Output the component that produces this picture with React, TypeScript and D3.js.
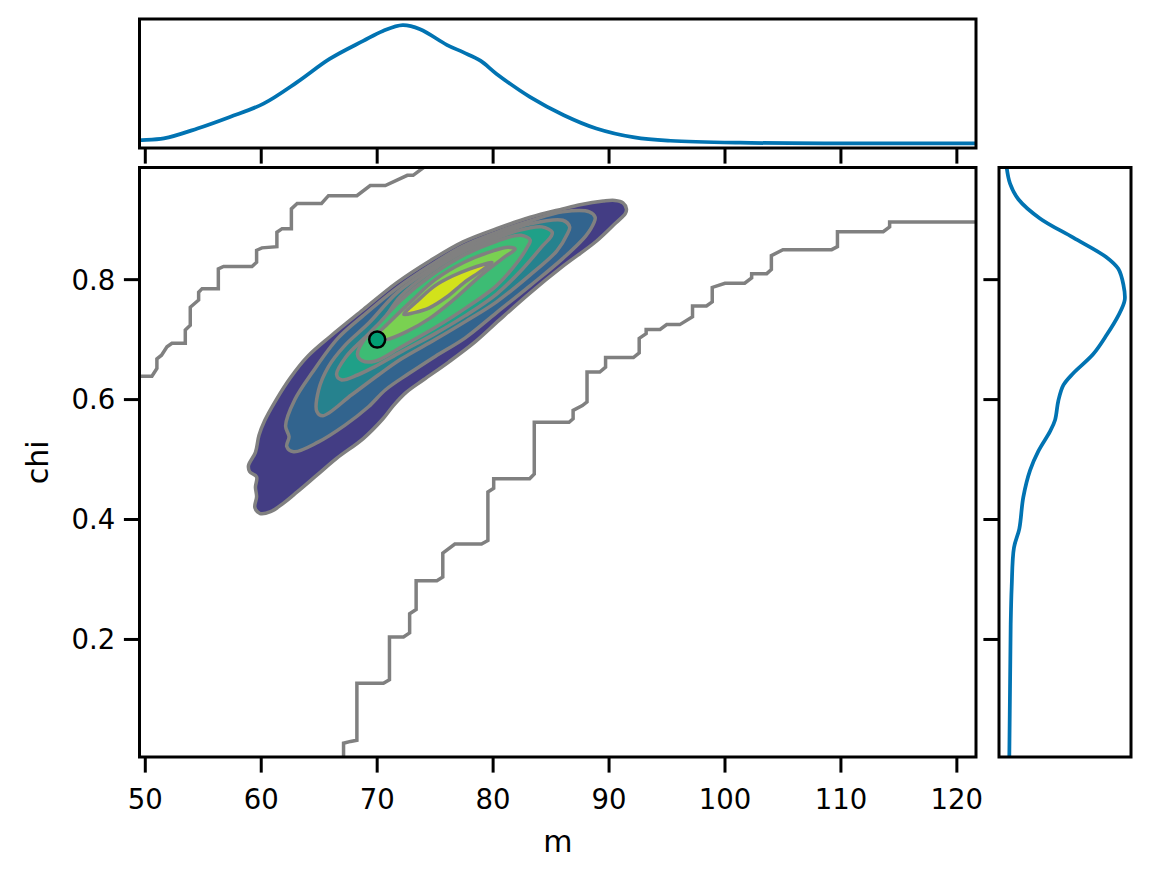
import React from "react";
import * as d3 from "d3";

// axis ticks and limits
const mTicks = [50, 60, 70, 80, 90, 100, 110, 120];
const chiTicks = [0.2, 0.4, 0.6, 0.8];
const mLimits = [49.5, 121.65];
const chiLimits = [0.004, 0.987];

// marginal KDE of m (relative density, peak ~100)
const mGrid = [49.5, 49.7, 51.6, 54.5, 57.3, 60.2, 63.1, 65.9, 68.8, 70.5, 72.2, 73.7, 76.0, 77.4, 78.9, 80.3, 83.2, 86.1, 88.9, 92.2, 95.3, 101.3, 110.4, 121.65];
const mDensity = [6.3, 6.5, 7.8, 15.9, 25.3, 36.1, 53.6, 72.5, 87.2, 95.3, 100, 96.7, 84.0, 78.0, 71.1, 60.3, 41.4, 26.7, 15.9, 8.6, 5.9, 4.3, 3.8, 3.8];

// marginal KDE of chi (relative density, peak ~100)
const chiGrid = [0.004, 0.127, 0.224, 0.288, 0.353, 0.385, 0.437, 0.482, 0.514, 0.547, 0.566, 0.598, 0.624, 0.644, 0.676, 0.708, 0.740, 0.766, 0.792, 0.818, 0.837, 0.870, 0.902, 0.934, 0.960, 0.987];
const chiDensity = [8.2, 8.8, 9.3, 10.1, 11.9, 16.2, 19.3, 24.7, 31.3, 40.6, 44.6, 47.2, 51.2, 59.1, 75.0, 85.7, 94.9, 100, 98.9, 94.9, 85.7, 59.1, 32.6, 15.4, 8.8, 6.1];

// joint KDE contour levels, outermost first, as [m, chi] vertices
const level1 = [[91.5, 0.918], [91.2, 0.928], [90.5, 0.932], [89.5, 0.931], [87.5, 0.925], [86.0, 0.918], [83.2, 0.904], [80.3, 0.885], [77.4, 0.863], [74.6, 0.832], [71.7, 0.795], [68.8, 0.750], [66.0, 0.706], [64.0, 0.672], [62.5, 0.636], [61.3, 0.600], [60.3, 0.565], [59.8, 0.540], [59.5, 0.512], [58.9, 0.490], [59.0, 0.480], [59.6, 0.471], [59.5, 0.454], [59.6, 0.438], [59.45, 0.420], [59.9, 0.410], [60.8, 0.413], [61.9, 0.427], [63.1, 0.446], [64.8, 0.474], [66.5, 0.502], [68.8, 0.535], [70.5, 0.568], [71.4, 0.590], [72.5, 0.612], [74.0, 0.633], [76.2, 0.663], [78.5, 0.697], [80.5, 0.732], [83.2, 0.778], [86.0, 0.822], [88.9, 0.864], [90.6, 0.895], [91.4, 0.910]];
const level2 = [[88.8, 0.904], [88.3, 0.913], [86.0, 0.913], [83.2, 0.898], [80.3, 0.879], [77.4, 0.856], [74.6, 0.824], [71.7, 0.786], [68.8, 0.740], [66.6, 0.702], [64.4, 0.645], [62.9, 0.600], [62.1, 0.556], [62.4, 0.538], [62.2, 0.522], [62.8, 0.513], [64.9, 0.529], [67.2, 0.557], [69.25, 0.588], [70.7, 0.616], [72.7, 0.643], [75.0, 0.672], [77.6, 0.703], [80.3, 0.745], [83.2, 0.790], [86.0, 0.835], [88.0, 0.873], [88.7, 0.895]];
const level3 = [[86.6, 0.888], [86.0, 0.899], [83.2, 0.893], [80.3, 0.874], [77.4, 0.851], [74.6, 0.818], [71.7, 0.778], [69.3, 0.728], [67.2, 0.690], [65.8, 0.655], [64.95, 0.616], [64.8, 0.580], [65.3, 0.573], [67.8, 0.608], [70.1, 0.641], [72.1, 0.668], [75.0, 0.700], [77.6, 0.730], [80.3, 0.763], [83.2, 0.808], [85.5, 0.848], [86.4, 0.876]];
const level4 = [[85.1, 0.879], [84.2, 0.888], [82.0, 0.881], [80.3, 0.869], [77.4, 0.846], [74.6, 0.813], [72.0, 0.772], [70.4, 0.730], [68.7, 0.699], [67.3, 0.671], [66.5, 0.642], [66.9, 0.633], [68.3, 0.641], [69.8, 0.655], [72.1, 0.680], [75.0, 0.710], [77.6, 0.740], [80.3, 0.776], [82.5, 0.817], [84.3, 0.857], [85.0, 0.872]];
const level5 = [[83.2, 0.866], [82.4, 0.874], [80.3, 0.864], [77.4, 0.840], [74.6, 0.806], [72.0, 0.765], [70.2, 0.728], [69.0, 0.703], [68.3, 0.676], [68.7, 0.665], [69.8, 0.664], [72.1, 0.688], [75.0, 0.720], [77.6, 0.752], [80.3, 0.790], [82.2, 0.832], [83.0, 0.856]];
const level6 = [[69.6, 0.699], [71.0, 0.728], [73.0, 0.765], [75.0, 0.800], [77.5, 0.829], [80.0, 0.848], [81.3, 0.854], [81.9, 0.851], [81.0, 0.838], [79.0, 0.808], [76.5, 0.765], [74.5, 0.735], [72.5, 0.713], [70.8, 0.700]];
const level7 = [[72.3, 0.742], [73.5, 0.765], [75.0, 0.790], [76.5, 0.806], [78.0, 0.818], [79.3, 0.826], [79.9, 0.829], [79.0, 0.815], [77.5, 0.795], [76.0, 0.771], [74.5, 0.753], [73.2, 0.745]];
const levels = [level1, level2, level3, level4, level5, level6, level7];
const levelColors = ["#433d84", "#32648e", "#26828e", "#1fa088", "#3dbc74", "#7ad151", "#d2e21b"];

// coarse-grid boundary contours
const boundaryUpper = [[49.5, 0.639], [50.57, 0.639], [51.0, 0.652], [51.0, 0.668], [51.4, 0.674], [51.87, 0.688], [52.3, 0.694], [53.45, 0.694], [53.45, 0.716], [53.88, 0.724], [53.88, 0.754], [54.6, 0.766], [54.6, 0.779], [54.9, 0.785], [56.3, 0.785], [56.3, 0.818], [56.75, 0.822], [59.2, 0.822], [59.6, 0.829], [59.6, 0.849], [60.06, 0.853], [61.35, 0.855], [61.35, 0.879], [61.8, 0.885], [62.6, 0.885], [62.6, 0.918], [63.1, 0.927], [65.2, 0.927], [65.8, 0.940], [68.25, 0.940], [69.4, 0.957], [70.7, 0.957], [72.6, 0.974], [73.1, 0.974], [74.0, 0.987]];
const boundaryLower = [[67.1, 0.004], [67.1, 0.027], [67.7, 0.030], [68.25, 0.032], [68.25, 0.127], [70.54, 0.127], [71.06, 0.133], [71.06, 0.204], [72.27, 0.204], [72.8, 0.211], [72.8, 0.243], [73.36, 0.250], [73.36, 0.298], [75.15, 0.298], [75.66, 0.304], [75.66, 0.344], [76.7, 0.359], [79.0, 0.359], [79.55, 0.365], [79.55, 0.446], [80.05, 0.452], [80.05, 0.468], [83.15, 0.468], [83.55, 0.476], [83.55, 0.562], [86.55, 0.562], [86.9, 0.568], [86.9, 0.582], [87.7, 0.590], [88.1, 0.596], [88.1, 0.646], [89.2, 0.646], [89.7, 0.654], [89.7, 0.670], [92.1, 0.670], [92.6, 0.678], [92.6, 0.702], [93.2, 0.710], [93.2, 0.717], [94.4, 0.717], [94.97, 0.725], [96.1, 0.725], [97.2, 0.738], [97.2, 0.756], [98.4, 0.756], [98.9, 0.763], [98.9, 0.787], [100.0, 0.794], [101.7, 0.794], [102.3, 0.803], [102.3, 0.810], [103.6, 0.810], [104.0, 0.817], [104.0, 0.840], [105.0, 0.850], [109.2, 0.850], [109.7, 0.855], [109.7, 0.880], [113.65, 0.880], [114.2, 0.888], [114.2, 0.896], [121.65, 0.896]];

// reference point
const truth = { m: 70, chi: 0.7 };

const W = 1151;
const H = 878;
const main = { left: 139.5, right: 976, top: 167.5, bottom: 757 };
const margTop = { top: 19, bottom: 148 };
const margRight = { left: 999, right: 1131 };
const TICK = 15.6;
const FONT = "DejaVu Sans, Liberation Sans, sans-serif";
const KDE_BLUE = "#0173b2";
const GRAY = "#808080";

export default function App() {
  const x = d3.scaleLinear().domain(mLimits).range([main.left, main.right]);
  const y = d3.scaleLinear().domain(chiLimits).range([main.bottom, main.top]);
  const yTop = d3.scaleLinear().domain([0, 105]).range([margTop.bottom, margTop.top]);
  const xRight = d3.scaleLinear().domain([0, 105]).range([margRight.left, margRight.right]);

  const contour = d3
    .line<number[]>()
    .x((d) => x(d[0]))
    .y((d) => y(d[1]))
    .curve(d3.curveCatmullRomClosed.alpha(0.5));
  const stepLine = d3
    .line<number[]>()
    .x((d) => x(d[0]))
    .y((d) => y(d[1]));
  const topKde = d3
    .line<number>()
    .x((_, i) => x(mGrid[i]))
    .y((d) => yTop(d))
    .curve(d3.curveCatmullRom.alpha(0.5));
  const rightKde = d3
    .line<number>()
    .x((d) => xRight(d))
    .y((_, i) => y(chiGrid[i]))
    .curve(d3.curveCatmullRom.alpha(0.5));

  return (
    <svg width={W} height={H} style={{ position: "absolute", left: 0, top: 0, background: "#fff" }} fontFamily={FONT}>
      <defs>
        <clipPath id="main-clip">
          <rect x={main.left} y={main.top} width={main.right - main.left} height={main.bottom - main.top} />
        </clipPath>
        <clipPath id="top-clip">
          <rect x={main.left} y={margTop.top} width={main.right - main.left} height={margTop.bottom - margTop.top} />
        </clipPath>
        <clipPath id="right-clip">
          <rect x={margRight.left} y={main.top} width={margRight.right - margRight.left} height={main.bottom - main.top} />
        </clipPath>
      </defs>

      {/* joint density */}
      <g clipPath="url(#main-clip)">
        {levels.map((pts, i) => (
          <path key={i} d={contour(pts) || ""} fill={levelColors[i]} stroke={GRAY} strokeWidth={3.5} strokeLinejoin="round" />
        ))}
        <path d={stepLine(boundaryUpper) || ""} fill="none" stroke={GRAY} strokeWidth={3.5} />
        <path d={stepLine(boundaryLower) || ""} fill="none" stroke={GRAY} strokeWidth={3.5} />
        <circle cx={x(truth.m)} cy={y(truth.chi)} r={8} fill="#029e73" stroke="#000" strokeWidth={2.5} />
      </g>

      {/* main axes */}
      <rect x={main.left} y={main.top} width={main.right - main.left} height={main.bottom - main.top} fill="none" stroke="#000" strokeWidth={3} />
      {mTicks.map((t) => (
        <g key={t}>
          <line x1={x(t)} x2={x(t)} y1={main.bottom} y2={main.bottom + TICK} stroke="#000" strokeWidth={3} />
          <text x={x(t)} y={main.bottom + TICK + 36} textAnchor="middle" fontSize={27.5}>
            {t}
          </text>
          <line x1={x(t)} x2={x(t)} y1={margTop.bottom} y2={margTop.bottom + TICK} stroke="#000" strokeWidth={3} />
        </g>
      ))}
      {chiTicks.map((t) => (
        <g key={t}>
          <line x1={main.left - TICK} x2={main.left} y1={y(t)} y2={y(t)} stroke="#000" strokeWidth={3} />
          <text x={main.left - TICK - 8.75} y={y(t)} dy="0.36em" textAnchor="end" fontSize={27.5}>
            {t.toFixed(1)}
          </text>
          <line x1={margRight.left - TICK} x2={margRight.left} y1={y(t)} y2={y(t)} stroke="#000" strokeWidth={3} />
        </g>
      ))}
      <text x={(main.left + main.right) / 2} y={852} textAnchor="middle" fontSize={30}>
        m
      </text>
      <text transform={`translate(48, ${(main.top + main.bottom) / 2}) rotate(-90)`} textAnchor="middle" fontSize={30}>
        chi
      </text>

      {/* marginal of m */}
      <g clipPath="url(#top-clip)">
        <path d={topKde(mDensity) || ""} fill="none" stroke={KDE_BLUE} strokeWidth={3.75} />
      </g>
      <rect x={main.left} y={margTop.top} width={main.right - main.left} height={margTop.bottom - margTop.top} fill="none" stroke="#000" strokeWidth={3} />

      {/* marginal of chi */}
      <g clipPath="url(#right-clip)">
        <path d={rightKde(chiDensity) || ""} fill="none" stroke={KDE_BLUE} strokeWidth={3.75} />
      </g>
      <rect x={margRight.left} y={main.top} width={margRight.right - margRight.left} height={main.bottom - main.top} fill="none" stroke="#000" strokeWidth={3} />
    </svg>
  );
}
